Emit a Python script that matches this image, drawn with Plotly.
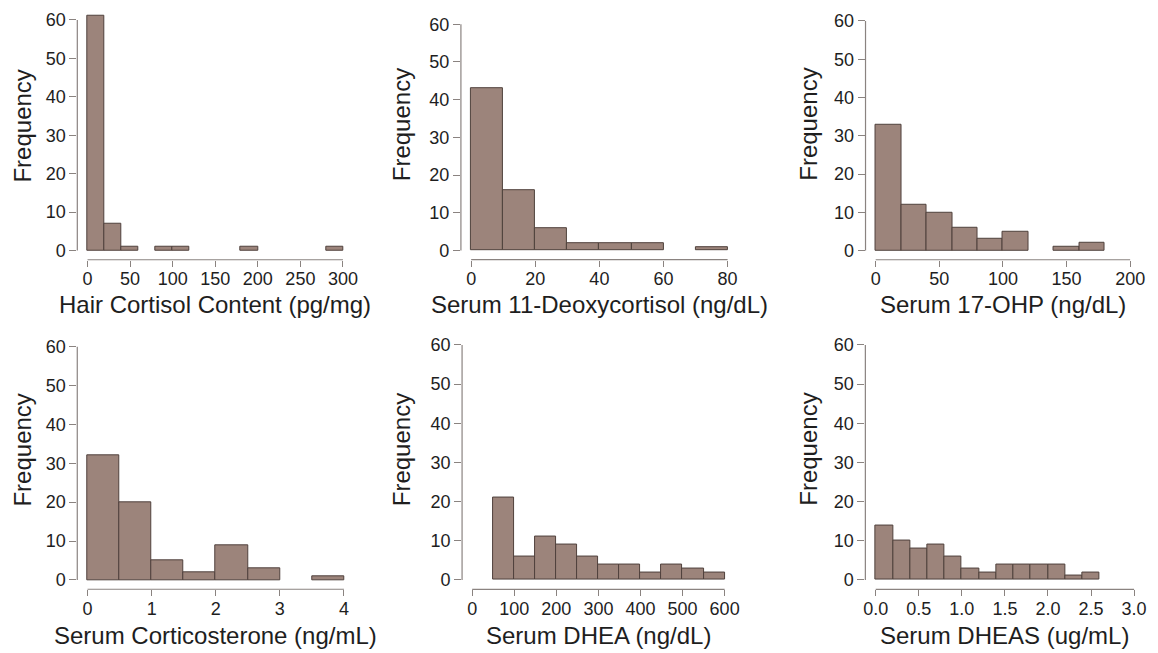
import plotly.graph_objects as go

# ---------------- data ----------------
hair_edges = [0, 20, 40, 60, 80, 100, 120, 140, 160, 180, 200, 220, 240, 260, 280, 300]
hair_counts = [61, 7, 1, 0, 1, 1, 0, 0, 0, 1, 0, 0, 0, 0, 1]

deoxy_edges = [0, 10, 20, 30, 40, 50, 60, 70, 80]
deoxy_counts = [43, 16, 6, 2, 2, 2, 0, 1]

ohp_edges = [0, 20, 40, 60, 80, 100, 120, 140, 160, 180]
ohp_counts = [33, 12, 10, 6, 3, 5, 0, 1, 2]

cort_edges = [0, 0.5, 1.0, 1.5, 2.0, 2.5, 3.0, 3.5, 4.0]
cort_counts = [32, 20, 5, 2, 9, 3, 0, 1]

dhea_edges = [50, 100, 150, 200, 250, 300, 350, 400, 450, 500, 550, 600]
dhea_counts = [21, 6, 11, 9, 6, 4, 4, 2, 4, 3, 2]

dheas_edges = [0.0, 0.2, 0.4, 0.6, 0.8, 1.0, 1.2, 1.4, 1.6, 1.8, 2.0, 2.2, 2.4, 2.6]
dheas_counts = [14, 10, 8, 9, 6, 3, 2, 4, 4, 4, 4, 1, 2]

hair_ticks = [0, 50, 100, 150, 200, 250, 300]
deoxy_ticks = [0, 20, 40, 60, 80]
ohp_ticks = [0, 50, 100, 150, 200]
cort_ticks = [0, 1, 2, 3, 4]
dhea_ticks = [0, 100, 200, 300, 400, 500, 600]
dheas_ticks = [0.0, 0.5, 1.0, 1.5, 2.0, 2.5, 3.0]
dheas_ticktext = ["0.0", "0.5", "1.0", "1.5", "2.0", "2.5", "3.0"]

y_ticks = [0, 10, 20, 30, 40, 50, 60]

x_titles = [
    "Hair Cortisol Content (pg/mg)",
    "Serum 11-Deoxycortisol (ng/dL)",
    "Serum 17-OHP (ng/dL)",
    "Serum Corticosterone (ng/mL)",
    "Serum DHEA (ng/dL)",
    "Serum DHEAS (ug/mL)",
]
y_title = "Frequency"

# ---------------- layout (pixel anchors of each panel) ----------------
OFF = 8                      # page body margin of the html page
W, H = 1158 - OFF, 653 - OFF  # figure size
# x pixel of first tick, x pixel of last tick, y pixel of 0, y pixel of 60 (reference pixels)
anchors = [
    (86, 343, 250.3, 19.0),
    (472, 730, 250.3, 23.3),
    (879, 1135, 250.3, 20.0),
    (86, 344, 580.7, 346.7),
    (473, 727, 580.7, 345.0),
    (879, 1139, 580.7, 345.0),
]
ytitle_px = [(21, 125), (402, 124), (812, 124), (21, 450), (402, 450), (812, 450)]
xtitle_y = [304, 304, 304, 636, 636, 636]

FILL = "#9c847b"
EDGE = "#4f413c"
AXIS = "#8a8380"
TEXT = "#1e1e1e"
FONT = "Liberation Sans, Arial, sans-serif"

panels = [
    (hair_edges, hair_counts, hair_ticks, None),
    (deoxy_edges, deoxy_counts, deoxy_ticks, None),
    (ohp_edges, ohp_counts, ohp_ticks, None),
    (cort_edges, cort_counts, cort_ticks, None),
    (dhea_edges, dhea_counts, dhea_ticks, None),
    (dheas_edges, dheas_counts, dheas_ticks, dheas_ticktext),
]


def px_x(v):
    return (v - OFF) / W


def px_y(v):
    return 1 - (v - OFF) / H


fig = go.Figure()
layout = dict(
    width=W, height=H, margin=dict(l=0, r=0, t=0, b=0),
    paper_bgcolor="white", plot_bgcolor="white",
    showlegend=False, font=dict(family=FONT, color=TEXT),
    bargap=0,
)
shapes = []
annotations = []

for i, (edges, counts, ticks, ticktext) in enumerate(panels):
    n = i + 1
    xa = "x" if n == 1 else f"x{n}"
    ya = "y" if n == 1 else f"y{n}"
    centers = [(edges[k] + edges[k + 1]) / 2 for k in range(len(counts))]
    widths = [edges[k + 1] - edges[k] for k in range(len(counts))]
    line_w = [1 if c > 0 else 0 for c in counts]
    fig.add_trace(go.Bar(
        x=centers, y=counts, width=widths,
        marker=dict(color=FILL, line=dict(color=EDGE, width=line_w)),
        xaxis=xa, yaxis=ya, hoverinfo="x+y",
    ))

    x0p, x1p, y0p, y60p = anchors[i]
    ext = 0.04 * (x1p - x0p)
    exty = 0.04 * (y0p - y60p)
    xdom = [px_x(x0p - ext), px_x(x1p + ext)]
    ydom = [px_y(y0p + exty), px_y(y60p - exty)]
    tmin, tmax = ticks[0], ticks[-1]
    span = tmax - tmin

    axis_common = dict(
        showline=False, showgrid=False, zeroline=False,
        ticks="outside", tickwidth=1, tickcolor=AXIS,
        tickfont=dict(size=18, color=TEXT, family=FONT),
        fixedrange=True,
    )
    xkw = dict(axis_common, domain=xdom, anchor=ya, ticklen=6,
               ticklabelstandoff=-3,
               range=[tmin - 0.04 * span, tmax + 0.04 * span],
               tickmode="array", tickvals=ticks)
    if ticktext is not None:
        xkw["ticktext"] = ticktext
    ykw = dict(axis_common, domain=ydom, anchor=xa, ticklen=7,
               range=[-2.4, 62.4], tickmode="array", tickvals=y_ticks)
    layout["xaxis" if n == 1 else f"xaxis{n}"] = xkw
    layout["yaxis" if n == 1 else f"yaxis{n}"] = ykw

    # R-style axis lines spanning first to last tick only
    shapes.append(dict(type="line", xref=xa, yref=f"{ya} domain",
                       x0=tmin, x1=tmax, y0=0, y1=0,
                       line=dict(color=AXIS, width=1.2)))
    shapes.append(dict(type="line", xref=f"{xa} domain", yref=ya,
                       x0=0, x1=0, y0=y_ticks[0], y1=y_ticks[-1],
                       line=dict(color=AXIS, width=1.2)))

    annotations.append(dict(
        text=x_titles[i], xref="paper", yref="paper",
        x=px_x((x0p + x1p) / 2), y=px_y(xtitle_y[i]),
        xanchor="center", yanchor="middle", showarrow=False,
        font=dict(size=24, color=TEXT, family=FONT),
    ))
    tx, ty = ytitle_px[i]
    annotations.append(dict(
        text=y_title, xref="paper", yref="paper",
        x=px_x(tx), y=px_y(ty), textangle=-90,
        xanchor="center", yanchor="middle", showarrow=False,
        font=dict(size=24, color=TEXT, family=FONT),
    ))

layout["shapes"] = shapes
layout["annotations"] = annotations
fig.update_layout(**layout)
fig.write_html("out.html")
